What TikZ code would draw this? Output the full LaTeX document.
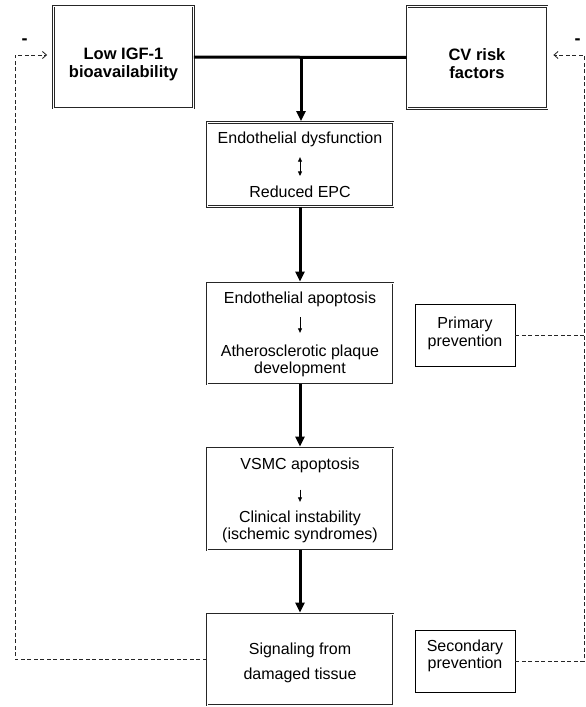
\documentclass[tikz,border=0pt]{standalone}
\usepackage{fontspec}
\setmainfont{Liberation Sans}
\usetikzlibrary{arrows.meta}
\begin{document}
\begin{tikzpicture}[x=1pt,y=-1pt,
  box/.style={draw=black!85, line width=0.8pt, double=white, double distance=0.8pt, inner sep=0pt},
  note/.style={draw=black, line width=0.8pt, inner sep=0pt},
  txt/.style={inner sep=0pt, align=center, font=\fontsize{16}{17}\selectfont},
  head/.style={inner sep=0pt, align=center, font=\fontsize{16.5}{18}\selectfont\bfseries},
  flow/.style={line width=3pt, -{Triangle[length=10pt,width=9pt]}, shorten >=1pt},
  bar/.style={line width=3pt},
  small/.style={line width=0.8pt, -{Triangle[length=4.5pt,width=4pt]}},
  smalltwo/.style={line width=0.8pt, {Triangle[length=4.5pt,width=4pt]}-{Triangle[length=4.5pt,width=4pt]}},
  dashline/.style={draw=black!85, line width=0.85pt, dash pattern=on 4pt off 2.5pt},
  dasharrow/.style={dashline, -{Straight Barb[length=4pt,width=7pt]}},
  minus/.style={inner sep=0pt, font=\fontsize{18}{18}\selectfont\bfseries}
]
\useasboundingbox (0,0) rectangle (586,707);

% boxes
\node[box, minimum width=140pt, minimum height=102pt] (low) at (123.5,57) {};
\node[box, minimum width=140pt, minimum height=102pt] (cv)  at (477,57.5) {};
\node[box, minimum width=186pt, minimum height=84pt]  (b2)  at (300,164.5) {};
\node[box, minimum width=186pt, minimum height=101pt] (b3)  at (300,333.5) {};
\node[box, minimum width=186pt, minimum height=102pt] (b4)  at (300,499) {};
\node[box, minimum width=186pt, minimum height=91pt]  (b5)  at (300,659.5) {};
\node[note, minimum width=100pt, minimum height=62pt] (prim) at (465,335) {};
\node[note, minimum width=100pt, minimum height=62pt] (sec)  at (465,661) {};

% texts
\node[head] (lowt) at (123.5,64) {Low IGF-1\\bioavailability};
\node[head] (cvt)  at (477,64) {CV risk\\factors};
\node[txt] (t2a) at (300,139.5) {Endothelial dysfunction};
\node[txt] (t2b) at (300,192) {Reduced EPC};
\node[txt] (t3a) at (300,299.5) {Endothelial apoptosis};
\node[txt] (t3b) at (300,361) {Atherosclerotic plaque\\development};
\node[txt] (t4a) at (300,465) {VSMC apoptosis};
\node[txt] (t4b) at (300,527) {Clinical instability\\(ischemic syndromes)};
\node[txt, font=\fontsize{16}{25}\selectfont] (t5) at (300,663) {Signaling from\\damaged tissue};
\node[txt, font=\fontsize{16}{18}\selectfont] (pt) at (465,333.5) {Primary\\prevention};
\node[txt, font=\fontsize{16}{17.3}\selectfont] (st) at (465,656) {Secondary\\prevention};
\node[minus] (mL) at (24.5,42) {-};
\node[minus] (mR) at (577.5,42) {-};

% inner small arrows
\draw[smalltwo] ([yshift=-10pt]t2a.south) -- ([yshift=10pt]t2b.north);
\draw[small] ([yshift=-10pt]t3a.south) -- ([yshift=12pt]t3b.north);
\draw[small] ([yshift=-17pt]t4a.south) -- ([yshift=9pt]t4b.north);

% main flow
\draw[bar] (low.east) -- (cv.west);
\coordinate (j) at (301,57);
\draw[flow] (j) -- (j |- b2.north);
\draw[flow] (b2.south) -- (b3.north);
\draw[flow] (b3.south) -- (b4.north);
\draw[flow] (b4.south) -- (b5.north);

% feedback loops
\coordinate (lc) at (15,55);
\coordinate (rc) at (584,55);
\draw[dasharrow, shorten >=6pt] (b5.west) -| (lc) -- (lc -| low.west);
\draw[dasharrow, shorten >=6pt] (sec.east) -| (rc) -- (rc -| cv.east);
\draw[dashline] (prim.east) -- (prim.east -| rc);
\end{tikzpicture}
\end{document}
